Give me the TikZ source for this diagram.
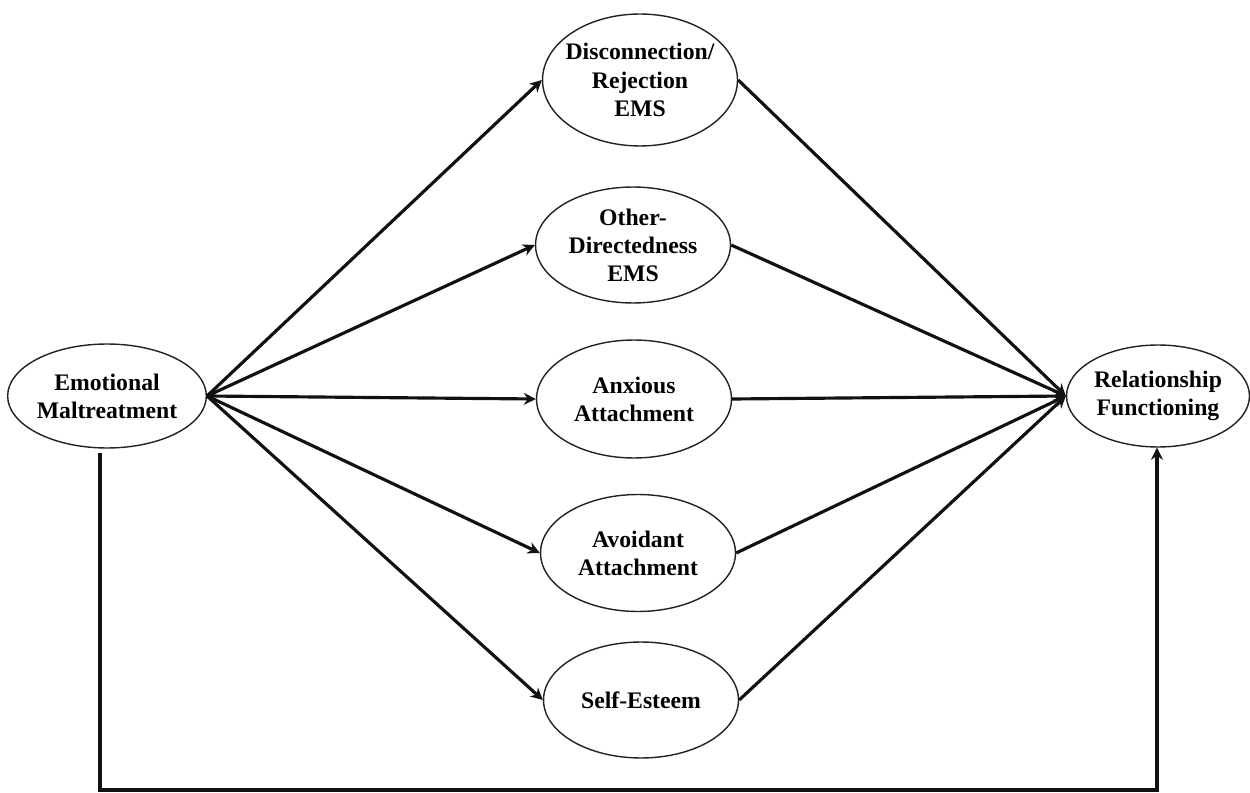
\documentclass[tikz,border=0pt]{standalone}
\usepackage{fontspec}
\setmainfont{Liberation Serif}
\usepackage{xcolor}
\usepackage{tikz}
\usetikzlibrary{arrows.meta,positioning,shapes.geometric}
\definecolor{pathink}{HTML}{111111}
\definecolor{ovalink}{HTML}{222222}

\begin{document}
\begin{tikzpicture}[x=0.02cm,y=-0.02cm,
    construct/.style={shape=ellipse,draw=ovalink,line width=0.8pt,fill=white,inner sep=0pt,
      minimum width=3.9cm,minimum height=2.32cm,align=center,
      font=\fontsize{13.5}{16}\selectfont\bfseries},
    pathway/.style={draw=pathink,line width=1.8pt,-{Stealth[length=0.24cm,width=0.24cm]}}]
      \useasboundingbox (0,0) rectangle (1250,793);
      % outer constructs
      \node[construct,minimum height=2.08cm] (em) at (107,396) {Emotional\\Maltreatment};
      \node[construct,minimum width=3.66cm,minimum height=2.04cm] (rf) at (1158,396) {Relationship\\Functioning};
      % mediators
      \node[construct,inner xsep=-6pt,minimum height=2.64cm] (dis) at (640,80) {Disconnection/\\Rejection\\EMS};
      \node[construct] (oth) at (633,245) {Other-\\Directedness\\EMS};
      \node[construct,minimum height=2.36cm] (anx) at (634,399) {Anxious\\Attachment};
      \node[construct,minimum height=2.34cm] (avo) at (638,553) {Avoidant\\Attachment};
      \node[construct] (se) at (641,700) {Self-Esteem};
      % paths
      \foreach \med in {dis,oth,anx,avo,se} {
        \draw[pathway] (em.east) -- (\med.west);
        \draw[pathway] (\med.east) -- (rf.west);
      }
      % direct path
      \coordinate (lowleft) at (100,790);
      \coordinate (lowright) at (1157,790);
      \draw[pathway,line join=miter] ([yshift=-0.08cm]em.south -| lowleft) -- (lowleft) -- (lowright) -- (rf.south -| lowright);
    \end{tikzpicture}
\end{document}
